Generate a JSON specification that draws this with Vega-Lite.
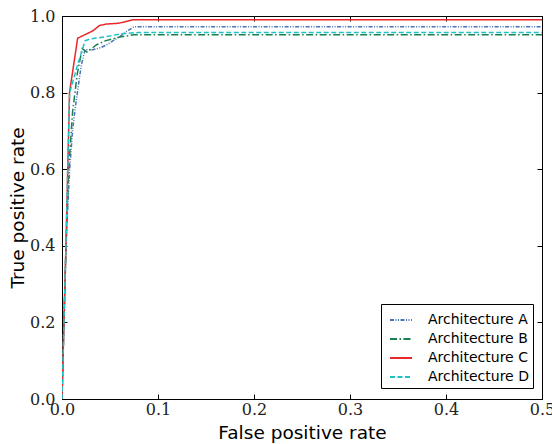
{
  "$schema": "https://vega.github.io/schema/vega-lite/v6.json",
  "width": 480,
  "height": 383,
  "autosize": {"type": "none"},
  "padding": {"left": 62, "top": 16, "right": 10, "bottom": 45},
  "background": "white",
  "config": {
    "view": {"stroke": "black", "strokeWidth": 1},
    "axis": {
      "grid": false,
      "domainColor": "black",
      "tickColor": "black",
      "tickSize": -5,
      "labelFont": "DejaVu Serif",
      "labelFontSize": 16,
      "labelColor": "#222222",
      "labelFlush": false,
      "labelOverlap": false,
      "titleFont": "DejaVu Sans",
      "titleFontSize": 18.5,
      "titleFontWeight": "normal",
      "titleColor": "black"
    }
  },
  "data": {
    "values": [
      {"model": "Architecture A", "fpr": 0, "tpr": 0},
      {"model": "Architecture A", "fpr": 0.0015, "tpr": 0.15},
      {"model": "Architecture A", "fpr": 0.003, "tpr": 0.3},
      {"model": "Architecture A", "fpr": 0.005, "tpr": 0.45},
      {"model": "Architecture A", "fpr": 0.008, "tpr": 0.6},
      {"model": "Architecture A", "fpr": 0.011, "tpr": 0.7},
      {"model": "Architecture A", "fpr": 0.013, "tpr": 0.745},
      {"model": "Architecture A", "fpr": 0.016, "tpr": 0.8},
      {"model": "Architecture A", "fpr": 0.02, "tpr": 0.87},
      {"model": "Architecture A", "fpr": 0.024, "tpr": 0.912},
      {"model": "Architecture A", "fpr": 0.032, "tpr": 0.912},
      {"model": "Architecture A", "fpr": 0.04, "tpr": 0.917},
      {"model": "Architecture A", "fpr": 0.046, "tpr": 0.924},
      {"model": "Architecture A", "fpr": 0.06, "tpr": 0.946},
      {"model": "Architecture A", "fpr": 0.067, "tpr": 0.959},
      {"model": "Architecture A", "fpr": 0.075, "tpr": 0.972},
      {"model": "Architecture A", "fpr": 0.5, "tpr": 0.972},
      {"model": "Architecture B", "fpr": 0, "tpr": 0},
      {"model": "Architecture B", "fpr": 0.002, "tpr": 0.2},
      {"model": "Architecture B", "fpr": 0.004, "tpr": 0.38},
      {"model": "Architecture B", "fpr": 0.007, "tpr": 0.6},
      {"model": "Architecture B", "fpr": 0.011, "tpr": 0.75},
      {"model": "Architecture B", "fpr": 0.016, "tpr": 0.85},
      {"model": "Architecture B", "fpr": 0.021, "tpr": 0.915},
      {"model": "Architecture B", "fpr": 0.026, "tpr": 0.906},
      {"model": "Architecture B", "fpr": 0.031, "tpr": 0.915},
      {"model": "Architecture B", "fpr": 0.036, "tpr": 0.925},
      {"model": "Architecture B", "fpr": 0.045, "tpr": 0.935},
      {"model": "Architecture B", "fpr": 0.06, "tpr": 0.945},
      {"model": "Architecture B", "fpr": 0.075, "tpr": 0.951},
      {"model": "Architecture B", "fpr": 0.5, "tpr": 0.951},
      {"model": "Architecture C", "fpr": 0, "tpr": 0},
      {"model": "Architecture C", "fpr": 0.004, "tpr": 0.39},
      {"model": "Architecture C", "fpr": 0.0075, "tpr": 0.76},
      {"model": "Architecture C", "fpr": 0.0078, "tpr": 0.8},
      {"model": "Architecture C", "fpr": 0.0163, "tpr": 0.942},
      {"model": "Architecture C", "fpr": 0.027, "tpr": 0.955},
      {"model": "Architecture C", "fpr": 0.032, "tpr": 0.961},
      {"model": "Architecture C", "fpr": 0.039, "tpr": 0.975},
      {"model": "Architecture C", "fpr": 0.046, "tpr": 0.979},
      {"model": "Architecture C", "fpr": 0.059, "tpr": 0.981},
      {"model": "Architecture C", "fpr": 0.074, "tpr": 0.99},
      {"model": "Architecture C", "fpr": 0.5, "tpr": 0.99},
      {"model": "Architecture D", "fpr": 0, "tpr": 0},
      {"model": "Architecture D", "fpr": 0.004, "tpr": 0.39},
      {"model": "Architecture D", "fpr": 0.0075, "tpr": 0.76},
      {"model": "Architecture D", "fpr": 0.008, "tpr": 0.8},
      {"model": "Architecture D", "fpr": 0.016, "tpr": 0.87},
      {"model": "Architecture D", "fpr": 0.024, "tpr": 0.935},
      {"model": "Architecture D", "fpr": 0.029, "tpr": 0.94},
      {"model": "Architecture D", "fpr": 0.046, "tpr": 0.946},
      {"model": "Architecture D", "fpr": 0.06, "tpr": 0.953},
      {"model": "Architecture D", "fpr": 0.08, "tpr": 0.957},
      {"model": "Architecture D", "fpr": 0.5, "tpr": 0.957}
    ]
  },
  "layer": [
    {
      "mark": {"type": "line", "strokeWidth": 1.5, "clip": true},
      "encoding": {
        "x": {
          "field": "fpr", "type": "quantitative",
          "scale": {"domain": [0, 0.5], "nice": false, "zero": false},
          "axis": {"values": [0, 0.1, 0.2, 0.3, 0.4, 0.5], "format": ".1f", "labelPadding": 7, "title": "False positive rate", "titleY": 33, "titleBaseline": "middle"}
        },
        "y": {
          "field": "tpr", "type": "quantitative",
          "scale": {"domain": [0, 1], "nice": false},
          "axis": {"values": [0, 0.2, 0.4, 0.6, 0.8, 1.0], "format": ".1f", "labelPadding": 12, "title": "True positive rate", "titleX": -45, "titleBaseline": "middle"}
        },
        "color": {
          "field": "model", "type": "nominal",
          "scale": {"domain": ["Architecture A", "Architecture B", "Architecture C", "Architecture D"], "range": ["#4a72b8", "#1a8050", "#e8282b", "#1fc0c8"]},
          "legend": {
            "title": null, "orient": "none", "legendX": 319, "legendY": 288,
            "symbolType": "stroke", "symbolSize": 484, "symbolStrokeWidth": 2,
            "labelFont": "DejaVu Sans", "labelFontSize": 14, "labelColor": "black",
            "labelOffset": 15, "padding": 4, "symbolOffset": 4, "rowPadding": -0.7,
            "strokeColor": "black", "fillColor": "white", "cornerRadius": 0
          }
        },
        "strokeDash": {
          "field": "model", "type": "nominal",
          "scale": {"domain": ["Architecture A", "Architecture B", "Architecture C", "Architecture D"], "range": [[4, 1.5, 1, 1.5, 1, 1.5], [7, 2.5, 1.5, 2.5], [1, 0], [5, 2.5]]},
          "legend": {
            "title": null, "orient": "none", "legendX": 319, "legendY": 288,
            "symbolType": "stroke", "symbolSize": 484, "symbolStrokeWidth": 2,
            "labelFont": "DejaVu Sans", "labelFontSize": 14, "labelColor": "black",
            "labelOffset": 15, "padding": 4, "symbolOffset": 4, "rowPadding": -0.7,
            "strokeColor": "black", "fillColor": "white", "cornerRadius": 0
          }
        }
      }
    },
    {
      "mark": {"type": "point", "opacity": 0},
      "encoding": {
        "x": {"field": "fpr", "type": "quantitative", "axis": {"orient": "top", "values": [0, 0.1, 0.2, 0.3, 0.4, 0.5], "labels": false, "title": null, "domain": false}},
        "y": {"field": "tpr", "type": "quantitative", "axis": {"orient": "right", "values": [0, 0.2, 0.4, 0.6, 0.8, 1.0], "labels": false, "title": null, "domain": false}}
      }
    }
  ],
  "resolve": {"axis": {"x": "independent", "y": "independent"}}
}
